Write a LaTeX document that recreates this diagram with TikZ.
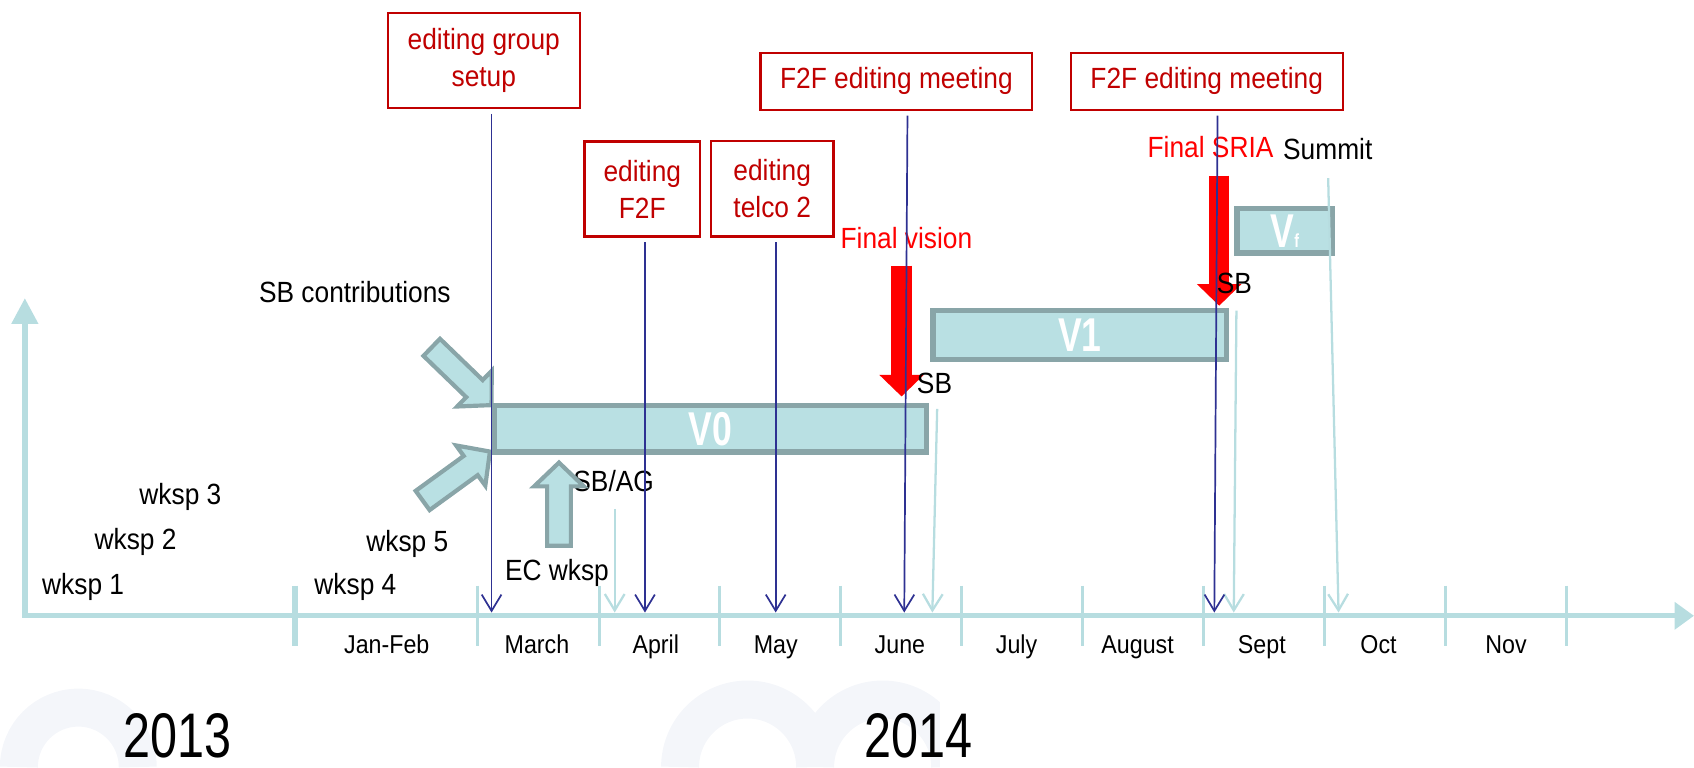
\documentclass[tikz,border=0pt]{standalone}
\usepackage{fontspec}
\setmainfont[FakeStretch=0.9]{Liberation Sans}
\newfontfamily\yearfont[FakeStretch=0.77]{Liberation Sans}
\newfontfamily\barfont[FakeStretch=0.75]{Liberation Sans}
\usepackage{xcolor}
\usepackage{tikz}
\usetikzlibrary{arrows.meta, calc, positioning}

\definecolor{axisteal}{RGB}{183,221,224}
\definecolor{barfill}{RGB}{185,224,227}
\definecolor{bargrey}{RGB}{137,165,168}
\definecolor{navyline}{RGB}{46,49,146}
\definecolor{boxred}{RGB}{192,0,0}
\definecolor{faintbg}{RGB}{244,246,250}

\begin{document}
\begin{tikzpicture}[x=0.1mm, y=0.1mm]
\tikzstyle{faint}=[draw=faintbg, line width=10pt]
\tikzstyle{axisline}=[draw=axisteal, line width=1.4pt, line join=miter]
\tikzstyle{monthtick}=[draw=axisteal, line width=0.6pt]
\tikzstyle{lbl}=[inner sep=0pt, anchor=base, font=\fontsize{7.7}{9.6}\selectfont]
\tikzstyle{monthlbl}=[inner sep=0pt, anchor=base, font=\fontsize{6.8}{8}\selectfont]
\tikzstyle{yearlbl}=[inner sep=0pt, anchor=base, font=\yearfont\fontsize{16.6}{20}\selectfont]
\tikzstyle{redbox}=[draw=boxred, line width=0.6pt, text=boxred, align=center, inner sep=0pt, font=\fontsize{7.7}{9.7}\selectfont]
\tikzstyle{version}=[draw=bargrey, fill=barfill, line width=1.4pt, text=white, inner sep=0pt, font=\barfont\bfseries\fontsize{12.5}{14}\selectfont]
\tikzstyle{blockarrow}=[draw=bargrey, fill=barfill, line width=1.1pt, line join=miter]
\tikzstyle{navyarrow}=[draw=navyline, line width=0.45pt, -{Straight Barb[length=4.3pt, width=5.2pt]}, shorten <=1.2pt]
\tikzstyle{lightarrow}=[draw=axisteal, line width=0.6pt, -{Straight Barb[length=4.3pt, width=5.2pt]}]
\tikzstyle{redarrow}=[draw=red, line width=5.4pt, -{Triangle[length=5.7pt, width=11.4pt]}]

\useasboundingbox (0,0) rectangle (1568,710);

% faint logo in the background
\draw[faint] (17.5,0) arc[start angle=180, end angle=0, radius=55];
\begin{scope}
\clip (590,0) rectangle (870,200);
\draw[faint] (629.5,0) arc[start angle=180, end angle=0, radius=62.5]
  (754.5,0) arc[start angle=180, end angle=0, radius=62.5];
\end{scope}

% time axis
\coordinate (origin) at (23,140);
\coordinate (xend) at (1568,140);
\coordinate (yend) at (23,434);
\draw[axisline, {Triangle[length=6.8pt, width=6.8pt]}-{Triangle[length=5.1pt, width=7pt]}] (yend) -- (origin) -- (xend);
\draw[axisline] (273,168) -- (273,112);
\foreach \x in {442,555,666,778,890,1002,1114,1226,1338,1450}
  \draw[monthtick] (\x,168) -- (\x,112);

\foreach \x/\m in {358/Jan-Feb, 497/March, 607/April, 718/May, 833/June, 941/July, 1053/August, 1168/Sept, 1276/Oct, 1394/Nov}
  \node[monthlbl] (m\m) at (\x,105.5) {\m};

\node[yearlbl] (y2013) at (164,9) {2013};
\node[yearlbl] (y2014) at (850,9) {2014};

% workshops
\node[lbl] (wksp1) at (77,159.3) {wksp 1};
\node[lbl] (wksp2) at (125.5,201) {wksp 2};
\node[lbl] (wksp3) at (167,242.6) {wksp 3};
\node[lbl] (wksp4) at (329,159.3) {wksp 4};
\node[lbl] (wksp5) at (377,199.4) {wksp 5};
\node[lbl] (sbcontrib) at (328.5,430) {SB contributions};
\node[lbl] (ecwksp) at (515.5,173) {EC wksp};
\node[lbl] (sbag) at (568,255) {SB/AG};

% input arrows
\foreach \px/\py/\ang in {455/335/-44, 453.5/292/36, 517.4/281.8/90}
  \draw[blockarrow, shift={(\px,\py)}, rotate=\ang] (0,0) -- (-22,23) -- (-22,11) -- (-77,11) -- (-77,-11) -- (-22,-11) -- (-22,-23) -- cycle;

% versions
\node[version, minimum width=40mm, minimum height=4.3mm] (v0) at (657.5,313) {V0};
\node[version, minimum width=27.2mm, minimum height=4.5mm] (v1) at (999.5,400) {V1};
\node[version, minimum width=8.85mm, minimum height=4.1mm] (vf) at (1189.25,496.3) {V{\fontsize{5}{6}\selectfont f}};

% editing events
\node[redbox, minimum width=17.76mm, minimum height=8.84mm] (setup) at (447.8,654) {editing group\\setup};
\node[redbox, minimum width=10.7mm, minimum height=8.8mm] (f2f) at (594.5,535) {editing\\F2F};
\node[redbox, minimum width=11.36mm, minimum height=8.84mm] (telco) at (714.8,535.2) {editing\\telco 2};
\node[redbox, minimum width=25.15mm, minimum height=5.3mm] (meeta) at (829.75,634.75) {F2F editing meeting};
\node[redbox, minimum width=25.2mm, minimum height=5.3mm] (meetb) at (1117,634.75) {F2F editing meeting};

% milestones
\node[lbl, text=red] (vision) at (839,480) {Final vision};
\node[lbl, text=red] (sria) at (1120.5,564.4) {Final SRIA};
\node[lbl] (summit) at (1229,562) {Summit};

\coordinate (vtip) at (834.5,343);
\coordinate (stip) at (1128.5,427);
\draw[redarrow, shorten <=1.5mm] (vision.south -| vtip) -- (vtip);
\draw[redarrow, shorten <=1.6mm] (sria.south -| stip) -- (stip);

\node[lbl] (sba) at (865,346) {SB};
\node[lbl] (sbb) at (1142.5,438.5) {SB};

% arrows down to the axis
\coordinate (asbag) at (569,143);
\coordinate (av0) at (863,143);
\coordinate (av1) at (1142,143);
\coordinate (asummit) at (1239,143);
\draw[lightarrow, shorten <=1.5mm] (sbag.south -| asbag) -- (asbag);
\draw[lightarrow] ($(v0.north east)+(7.5,-5.5)$) -- (av0);
\draw[lightarrow] ($(v1.north east)+(6.5,-2.5)$) -- (av1);
\draw[lightarrow, shorten <=1.6mm] (summit.south) -- (asummit);

\coordinate (asetup) at (455,143);
\coordinate (af2f) at (597,143);
\coordinate (atelco) at (718,143);
\coordinate (ameeta) at (837,143);
\coordinate (ameetb) at (1124,143);
\draw[navyarrow] (setup.south -| asetup) -- (asetup);
\draw[navyarrow] (f2f.south -| af2f) -- (af2f);
\draw[navyarrow] (telco.south -| atelco) -- (atelco);
\draw[navyarrow] ($(meeta.south -| ameeta)+(3,0)$) -- (ameeta);
\draw[navyarrow] ($(meetb.south -| ameetb)+(3,0)$) -- (ameetb);
\end{tikzpicture}
\end{document}
